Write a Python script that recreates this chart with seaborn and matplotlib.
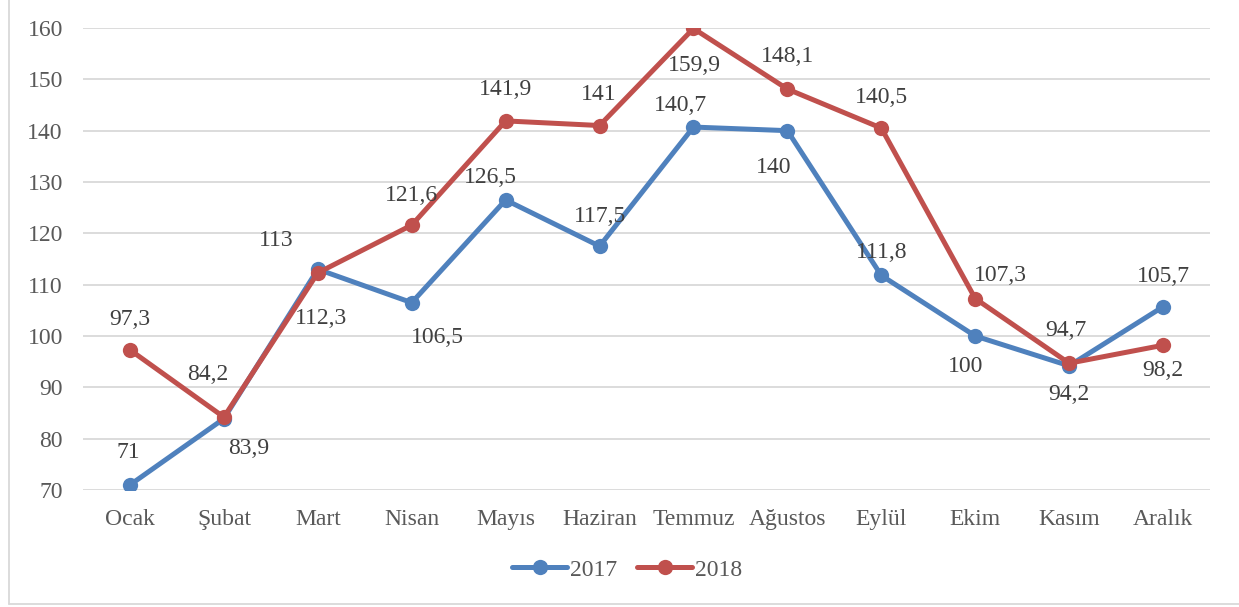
import matplotlib
matplotlib.use("Agg")
import matplotlib.pyplot as plt
import seaborn as sns
import pandas as pd
from matplotlib.lines import Line2D

months = ["Ocak", "Şubat", "Mart", "Nisan", "Mayıs", "Haziran", "Temmuz",
          "Ağustos", "Eylül", "Ekim", "Kasım", "Aralık"]
v2017 = [71, 83.9, 113, 106.5, 126.5, 117.5, 140.7, 140, 111.8, 100, 94.2, 105.7]
v2018 = [97.3, 84.2, 112.3, 121.6, 141.9, 141, 159.9, 148.1, 140.5, 107.3, 94.7, 98.2]
yticks = [70, 80, 90, 100, 110, 120, 130, 140, 150, 160]

# label offsets (pixels)
off2017 = [(-2, 32), (25, -30), (-42, 29), (26, -35), (-15, 22), (0, 30),
           (-13, 22), (-14, -37), (0, 23), (-10, -30), (0, -29), (0, 30)]
off2018 = [(0, 30), (-16, 43), (3, -46), (0, 30), (0, 31), (-1, 31),
           (1, -37), (0, 33), (0, 31), (25, 23), (-3, 33), (0, -25)]

sns.set_theme(style="white")
plt.rcParams["font.family"] = ["Liberation Serif", "DejaVu Serif"]

FS = 17
colors = {"2017": "#4F81BD", "2018": "#C0504D"}
df = pd.DataFrame({
    "x": list(range(len(months))) * 2,
    "value": v2017 + v2018,
    "year": ["2017"] * len(months) + ["2018"] * len(months),
})

fig = plt.figure(figsize=(12.39, 6.07), dpi=100)
ax = fig.add_axes([0.067, 0.1927, 0.9096, 0.7612])
sns.lineplot(data=df, x="x", y="value", hue="year", palette=colors, ax=ax,
             linewidth=3.6, marker="o", markersize=11, markeredgewidth=0,
             legend=False)

ax.set_xlim(-0.5, len(months) - 0.5)
ax.set_ylim(70, 160)
ax.set_yticks(yticks)
ax.set_yticklabels([str(t) for t in yticks])
ax.set_xticks(range(len(months)))
ax.set_xticklabels(months)
ax.tick_params(axis="both", length=0, labelsize=FS, colors="#595959")
ax.tick_params(axis="x", pad=14)
ax.tick_params(axis="y", pad=14.5)
ax.set_xlabel("")
ax.set_ylabel("")
ax.yaxis.grid(True, color="#D9D9D9", linewidth=1.3)
ax.set_axisbelow(True)
for s in ax.spines.values():
    s.set_visible(False)

def fmt(v):
    return (f"{v:g}").replace(".", ",")

for vals, offs in ((v2017, off2017), (v2018, off2018)):
    for i, (v, o) in enumerate(zip(vals, offs)):
        ax.annotate(fmt(v), (i, v), xytext=o, textcoords="offset pixels",
                    ha="center", va="center", fontsize=FS, color="#404040",
                    annotation_clip=False)

handles = [Line2D([0], [0], color=colors[k], lw=3.6, marker="o", markersize=11,
                  markeredgewidth=0) for k in ("2017", "2018")]
fig.legend(handles, ["2017", "2018"], loc="center", bbox_to_anchor=(0.506, 0.061),
           ncol=2, frameon=False, fontsize=FS, handlelength=2.35,
           handletextpad=0.1, columnspacing=0.85, labelcolor="#595959")

# chart frame
fig.add_artist(Line2D([9 / 1239, 9 / 1239], [1, 3 / 607], color="#D9D9D9",
                      lw=1.3, transform=fig.transFigure))
fig.add_artist(Line2D([9 / 1239, 1], [3 / 607, 3 / 607], color="#D9D9D9",
                      lw=1.3, transform=fig.transFigure))

fig.savefig("out.png", dpi=100, facecolor="white")
